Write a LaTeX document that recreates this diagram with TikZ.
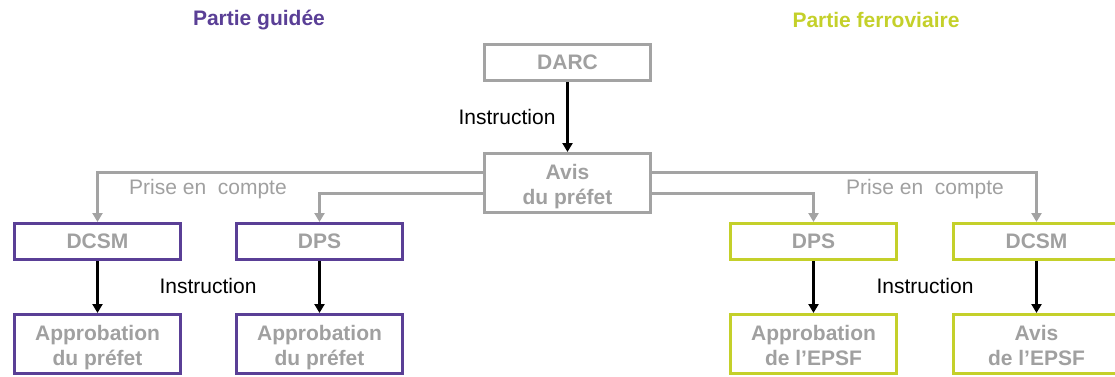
\documentclass[tikz,border=0pt]{standalone}
\usepackage{fontspec}
\setmainfont{Liberation Sans}
\usetikzlibrary{arrows.meta}

\definecolor{guide}{HTML}{5A3F96}
\definecolor{rail}{HTML}{C4D02A}
\definecolor{boxgray}{HTML}{A3A3A3}
\definecolor{txtgray}{HTML}{A0A0A0}

% two-line box label with uniform line heights
\newcommand{\twoline}[2]{\rule{0pt}{25.5pt}#1\\#2\strut}

\tikzset{
  every node/.style={font=\fontsize{21}{25}\selectfont, inner sep=0pt, align=center},
  box/.style={draw=boxgray, line width=3pt, text=txtgray, font=\bfseries\fontsize{21}{25}\selectfont,
              minimum width=166pt},
  small/.style={minimum height=36pt},
  tall/.style={minimum height=59pt},
  guidebox/.style={box, draw=guide},
  railbox/.style={box, draw=rail},
  title/.style={font=\bfseries\fontsize{21}{25}\selectfont},
  lbl/.style={text=black},
  graylbl/.style={text=txtgray},
  link/.style={draw=boxgray, line width=3pt, -{Triangle[width=10pt,length=9pt]}},
  instr/.style={draw=black, line width=2.5pt, -{Triangle[width=10pt,length=9pt]}}
}

\begin{document}
\begin{tikzpicture}[x=1pt, y=-1pt]
  \useasboundingbox (0,0) rectangle (1115,376);

  % section titles
  \node[title, text=guide] (tg) at (259,20) {Partie guidée};
  \node[title, text=rail]  (tr) at (876,20) {Partie ferroviaire};

  % central chain
  \node[box, small] (darc) at (567.5,62.5) {DARC};
  \node[box, tall]  (avis) at (567.5,183) {\twoline{Avis}{du préfet}};
  \draw[instr] (darc) -- (avis);
  \node[lbl] (i0) at (507,117) {Instruction};

  % guided side
  \node[guidebox, small] (dcsmL) at (97.5,241.5)  {DCSM};
  \node[guidebox, small] (dpsL)  at (319.5,241.5) {DPS};
  \node[guidebox, tall]  (appL1) at (97.5,344)    {\twoline{Approbation}{du préfet}};
  \node[guidebox, tall]  (appL2) at (319.5,344)   {\twoline{Approbation}{du préfet}};

  % railway side
  \node[railbox, small] (dpsR)  at (813.5,241.5)  {DPS};
  \node[railbox, small] (dcsmR) at (1036.5,241.5) {DCSM};
  \node[railbox, tall]  (appR)  at (813.5,344)    {\twoline{Approbation}{de l’EPSF}};
  \node[railbox, tall]  (avisR) at (1036.5,344)   {\twoline{Avis}{de l’EPSF}};

  % links from the prefect's opinion
  \draw[link] (avis.west |- 0,172) -| (dcsmL.north);
  \draw[link] (avis.west |- 0,193) -| (dpsL.north);
  \draw[link] (avis.east |- 0,172) -| (dcsmR.north);
  \draw[link] (avis.east |- 0,193) -| (dpsR.north);
  \node[graylbl] (pL) at (208,189) {Prise en~~compte};
  \node[graylbl] (pR) at (925,189) {Prise en~~compte};

  % instruction arrows
  \draw[instr] (dcsmL) -- (appL1);
  \draw[instr] (dpsL)  -- (appL2);
  \draw[instr] (dpsR)  -- (appR);
  \draw[instr] (dcsmR) -- (avisR);
  \node[lbl] (iL) at (208,286) {Instruction};
  \node[lbl] (iR) at (925,286) {Instruction};
\end{tikzpicture}
\end{document}
